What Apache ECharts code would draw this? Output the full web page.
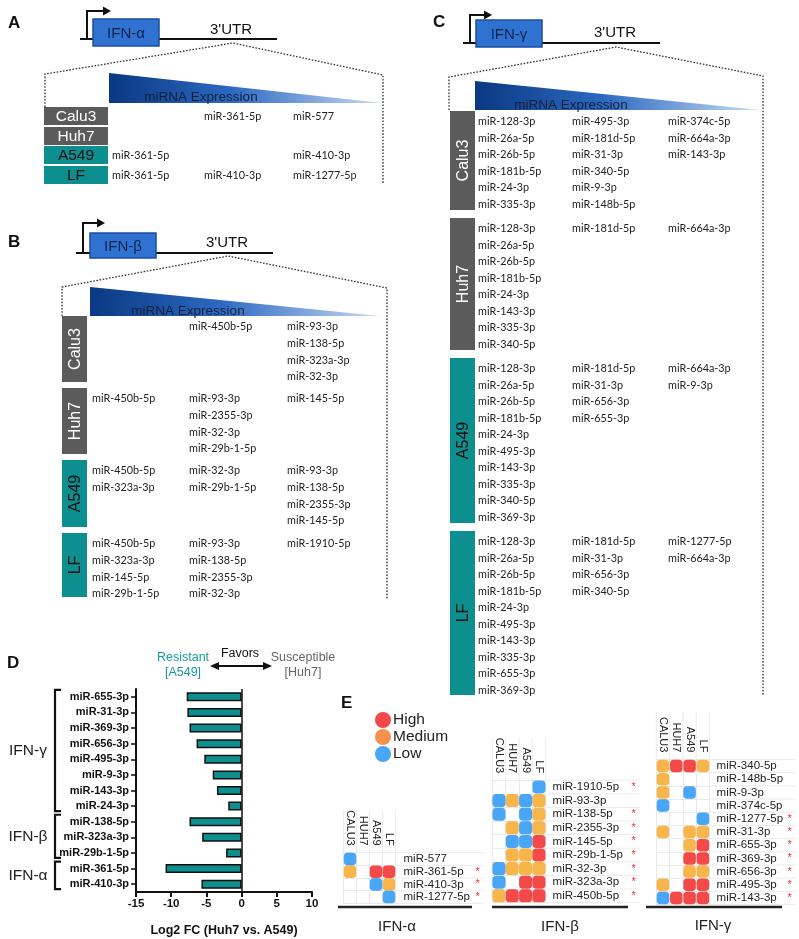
<!DOCTYPE html>
<html><head><meta charset="utf-8">
<script src="https://cdn.jsdelivr.net/npm/echarts@6/dist/echarts.min.js"></script>
<style>html,body{margin:0;padding:0;background:#fff}#c{width:799px;height:939px}</style>
</head><body><div id="c"></div>
<script>
// ---------------- DATA ----------------
const cellLines = ['Calu3', 'Huh7', 'A549', 'LF'];
// Panels A-C: columns ordered from high to low miRNA expression
const aCalu3 = [[], ['miR-361-5p'], ['miR-577']];
const aHuh7  = [[], [], []];
const aA549  = [['miR-361-5p'], [], ['miR-410-3p']];
const aLF    = [['miR-361-5p'], ['miR-410-3p'], ['miR-1277-5p']];

const bCalu3 = [[], ['miR-450b-5p'], ['miR-93-3p', 'miR-138-5p', 'miR-323a-3p', 'miR-32-3p']];
const bHuh7  = [['miR-450b-5p'], ['miR-93-3p', 'miR-2355-3p', 'miR-32-3p', 'miR-29b-1-5p'], ['miR-145-5p']];
const bA549  = [['miR-450b-5p', 'miR-323a-3p'], ['miR-32-3p', 'miR-29b-1-5p'], ['miR-93-3p', 'miR-138-5p', 'miR-2355-3p', 'miR-145-5p']];
const bLF    = [['miR-450b-5p', 'miR-323a-3p', 'miR-145-5p', 'miR-29b-1-5p'], ['miR-93-3p', 'miR-138-5p', 'miR-2355-3p', 'miR-32-3p'], ['miR-1910-5p']];

const cCalu3 = [['miR-128-3p', 'miR-26a-5p', 'miR-26b-5p', 'miR-181b-5p', 'miR-24-3p', 'miR-335-3p'],
                ['miR-495-3p', 'miR-181d-5p', 'miR-31-3p', 'miR-340-5p', 'miR-9-3p', 'miR-148b-5p'],
                ['miR-374c-5p', 'miR-664a-3p', 'miR-143-3p']];
const cHuh7  = [['miR-128-3p', 'miR-26a-5p', 'miR-26b-5p', 'miR-181b-5p', 'miR-24-3p', 'miR-143-3p', 'miR-335-3p', 'miR-340-5p'],
                ['miR-181d-5p'], ['miR-664a-3p']];
const cA549  = [['miR-128-3p', 'miR-26a-5p', 'miR-26b-5p', 'miR-181b-5p', 'miR-24-3p', 'miR-495-3p', 'miR-143-3p', 'miR-335-3p', 'miR-340-5p', 'miR-369-3p'],
                ['miR-181d-5p', 'miR-31-3p', 'miR-656-3p', 'miR-655-3p'], ['miR-664a-3p', 'miR-9-3p']];
const cLF    = [['miR-128-3p', 'miR-26a-5p', 'miR-26b-5p', 'miR-181b-5p', 'miR-24-3p', 'miR-495-3p', 'miR-143-3p', 'miR-335-3p', 'miR-655-3p', 'miR-369-3p'],
                ['miR-181d-5p', 'miR-31-3p', 'miR-656-3p', 'miR-340-5p'], ['miR-1277-5p', 'miR-664a-3p']];

// Panel D
const dMirs = ['miR-655-3p', 'miR-31-3p', 'miR-369-3p', 'miR-656-3p', 'miR-495-3p', 'miR-9-3p', 'miR-143-3p', 'miR-24-3p',
               'miR-138-5p', 'miR-323a-3p', 'miR-29b-1-5p', 'miR-361-5p', 'miR-410-3p'];
const dLog2FC = [-7.8, -7.7, -7.4, -6.4, -5.3, -4.1, -3.5, -1.9, -7.4, -5.6, -2.2, -10.8, -5.7];
const dGroupNames = ['IFN-γ', 'IFN-β', 'IFN-α'];
const dGroupSizes = [8, 3, 2];
const dTicks = [-15, -10, -5, 0, 5, 10];

// Panel E : 0 = none, 1 = Low, 2 = Medium, 3 = High
const eCols = ['CALU3', 'HUH7', 'A549', 'LF'];
const levelNames = ['', 'Low', 'Medium', 'High'];
const eAlphaMirs = ['miR-577', 'miR-361-5p', 'miR-410-3p', 'miR-1277-5p'];
const eAlphaLevels = [[1,0,0,0],[2,0,3,3],[0,0,1,2],[0,0,0,1]];
const eAlphaStar = [0,1,1,1];
const eBetaMirs = ['miR-1910-5p', 'miR-93-3p', 'miR-138-5p', 'miR-2355-3p', 'miR-145-5p', 'miR-29b-1-5p', 'miR-32-3p', 'miR-323a-3p', 'miR-450b-5p'];
const eBetaLevels = [[0,0,0,1],[1,2,1,2],[1,0,1,2],[0,2,1,2],[0,1,1,3],[0,2,2,3],[1,2,2,2],[1,0,3,3],[2,3,3,3]];
const eBetaStar = [1,0,1,1,1,1,1,1,1];
const eGammaMirs = ['miR-340-5p', 'miR-148b-5p', 'miR-9-3p', 'miR-374c-5p', 'miR-1277-5p', 'miR-31-3p', 'miR-655-3p', 'miR-369-3p', 'miR-656-3p', 'miR-495-3p', 'miR-143-3p'];
const eGammaLevels = [[2,3,3,2],[2,0,0,0],[2,0,1,0],[1,0,0,0],[0,0,0,1],[2,0,2,2],[0,0,2,3],[0,0,3,3],[0,0,2,2],[2,0,3,3],[1,3,3,3]];
const eGammaStar = [0,0,0,0,1,1,1,1,1,1,1];

// ---------------- STYLE ----------------
const SANS = '"Liberation Sans", Arial, Helvetica, sans-serif';
const LIST = 'Lato, "Open Sans", sans-serif';
const TEAL = '#0e8f8f';
const GRAY = '#5b5b5b';
const levelColors = ['', '#1b8ef2', '#f6a21e', '#f01c1c'];
const rowFill = [GRAY, GRAY, TEAL, TEAL];
const rowText = ['#ffffff', '#ffffff', '#111111', '#111111'];
const dotPath = 'path://M3,0 H7 A3,3 0 0 1 10,3 V7 A3,3 0 0 1 7,10 H3 A3,3 0 0 1 0,7 V3 A3,3 0 0 1 3,0 Z';

const G = [];
function txt(s, x, y, font, fill, align, valign, rot) {
  align = align || 'center'; valign = valign || 'middle';
  return { type: 'text', x: x, y: y, rotation: rot || 0, silent: true,
    style: { text: s, font: font, fill: fill, textAlign: align, textVerticalAlign: valign, align: align, verticalAlign: valign } };
}
function line(x1, y1, x2, y2, stroke, w, dash) {
  const st = { stroke: stroke, lineWidth: w };
  if (dash) st.lineDash = dash;
  return { type: 'line', silent: true, shape: { x1: x1, y1: y1, x2: x2, y2: y2 }, style: st };
}

function genePanel(p) {
  G.push(txt(p.letter, p.letterPos[0], p.letterPos[1], 'bold 17px ' + SANS, '#111', 'left'));
  G.push(line(p.base[0], p.base[2], p.base[1], p.base[2], '#111', 2));
  // promoter arrow
  G.push({ type: 'polyline', silent: true, shape: { points: [[p.prom[0], p.base[2]], [p.prom[0], p.prom[1]], [p.prom[2] - 6, p.prom[1]]] },
    style: { stroke: '#111', lineWidth: 2, fill: null } });
  G.push({ type: 'polygon', silent: true, shape: { points: [[p.prom[2] - 8, p.prom[1] - 4.5], [p.prom[2], p.prom[1]], [p.prom[2] - 8, p.prom[1] + 4.5]] },
    style: { fill: '#111' } });
  // gene box
  const b = p.box;
  G.push({ type: 'rect', silent: true, shape: { x: b[0], y: b[1], width: b[2], height: b[3] }, style: { fill: '#2f72d2', stroke: '#1d4f9e', lineWidth: 1.5 } });
  G.push(txt(p.gene, b[0] + b[2] / 2, b[1] + b[3] / 2 + 1, '15px ' + SANS, '#10244a'));
  G.push(txt("3'UTR", p.utr[0], p.utr[1], '15px ' + SANS, '#111'));
  // dotted zoom lines
  G.push({ type: 'polyline', silent: true, shape: { points: p.dots }, style: { stroke: '#333', lineWidth: 1.3, lineDash: [1.6, 1.6], fill: null } });
  // expression gradient
  const t = p.tri;
  G.push({ type: 'polygon', silent: true, shape: { points: [[t[0], t[1]], [t[2], t[3]], [t[0], t[3]]] },
    style: { fill: new echarts.graphic.LinearGradient(0, 0, 1, 0, [
      { offset: 0, color: '#0a3882' }, { offset: 0.45, color: '#2d69c2' }, { offset: 1, color: '#c7dbf4' }]) } });
  G.push(txt('miRNA Expression', p.expr[0], p.expr[1], '13.5px ' + SANS, '#15203a'));
  // row label boxes + miRNA lists
  p.rows.forEach(function (r, i) {
    G.push({ type: 'rect', silent: true, shape: { x: r[0], y: r[1], width: r[2], height: r[3] }, style: { fill: rowFill[i] } });
    if (p.vertical) {
      G.push(txt(cellLines[i], r[0] + r[2] / 2 + 1, r[1] + r[3] / 2, '16px ' + SANS, rowText[i], 'center', 'middle', Math.PI / 2));
    } else {
      G.push(txt(cellLines[i], r[0] + r[2] / 2, r[1] + r[3] / 2 + 1, '15.5px ' + SANS, rowText[i]));
    }
    p.data[i].forEach(function (list, c) {
      list.forEach(function (name, k) {
        G.push(txt(name, p.cols[c], r[1] + p.first + k * p.spacing, '10.8px ' + LIST, '#222', 'left'));
      });
    });
  });
}

genePanel({ letter: 'A', letterPos: [8, 23], gene: 'IFN-α', base: [80, 277, 39], prom: [87, 11, 111], box: [93, 19, 66, 27], utr: [231, 30],
  dots: [[45, 107], [45, 74], [233, 43], [383, 75], [383, 183]], tri: [109, 73, 382, 103], expr: [201, 97],
  rows: [[44, 107, 64, 18], [44, 127, 64, 18], [44, 146, 64, 18], [44, 166, 64, 18]], vertical: false,
  cols: [112, 204, 293], first: 10, spacing: 16.6, data: [aCalu3, aHuh7, aA549, aLF] });

genePanel({ letter: 'B', letterPos: [8, 242], gene: 'IFN-β', base: [76, 273, 253], prom: [83, 223, 105], box: [90, 233, 66, 25], utr: [227, 243],
  dots: [[62, 316], [62, 287], [228, 256], [387, 288], [387, 600]], tri: [90, 287, 380, 316], expr: [188, 311],
  rows: [[62, 316, 25, 66], [62, 388, 25, 66], [62, 460, 25, 67], [62, 533, 25, 64]], vertical: true,
  cols: [92, 189, 287], first: 11, spacing: 16.6, data: [bCalu3, bHuh7, bA549, bLF] });

genePanel({ letter: 'C', letterPos: [433, 22], gene: 'IFN-γ', base: [463, 660, 43], prom: [470, 15, 492], box: [476, 20, 66, 27], utr: [615, 33],
  dots: [[449, 110], [449, 77], [616, 47], [763, 76], [763, 695]], tri: [475, 81, 760, 110], expr: [571, 105],
  rows: [[450, 111, 25, 99], [450, 218, 25, 132], [450, 358, 25, 165], [450, 531, 25, 164]], vertical: true,
  cols: [478, 572, 668], first: 10.7, spacing: 16.5, data: [cCalu3, cHuh7, cA549, cLF] });

// Panel D header
G.push(txt('D', 7, 663, 'bold 17px ' + SANS, '#111', 'left'));
G.push(txt('Resistant', 183, 658, '12.5px ' + SANS, '#179a9a'));
G.push(txt('[A549]', 183, 673, '12.5px ' + SANS, '#179a9a'));
G.push(txt('Favors', 240, 654, '12.5px ' + SANS, '#111'));
G.push(line(216, 666, 266, 666, '#111', 2));
G.push({ type: 'polygon', silent: true, shape: { points: [[210, 666], [219, 662], [219, 670]] }, style: { fill: '#111' } });
G.push({ type: 'polygon', silent: true, shape: { points: [[272, 666], [263, 662], [263, 670]] }, style: { fill: '#111' } });
G.push(txt('Susceptible', 303, 658, '12.5px ' + SANS, '#666'));
G.push(txt('[Huh7]', 303, 673, '12.5px ' + SANS, '#666'));

// ---------------- CHART ----------------
const eGrids = [
  { mirs: eAlphaMirs, lv: eAlphaLevels, star: eAlphaStar, grid: { left: 343.5, top: 852.7, width: 52, height: 50.7 }, margin: 8, nameW: 72, size: 12.5, head: 42 },
  { mirs: eBetaMirs, lv: eBetaLevels, star: eBetaStar, grid: { left: 492.3, top: 780.2, width: 53.3, height: 122.4 }, margin: 7, nameW: 79, size: 13, head: 42 },
  { mirs: eGammaMirs, lv: eGammaLevels, star: eGammaStar, grid: { left: 656.3, top: 759.4, width: 53.3, height: 145.2 }, margin: 7, nameW: 71, size: 12.5, head: 48 }
];

// faint table rules of panel E that run through the header and label areas
eGrids.forEach(function (e) {
  const g = e.grid, nR = e.mirs.length, nC = eCols.length;
  const xr = g.left + g.width + e.margin + e.nameW + 8;
  for (let k = 0; k <= nR; k++) {
    const y = g.top + k * g.height / nR;
    G.push(line(g.left + g.width, y, xr, y, '#e6e6e6', 0.8));
  }
  for (let k = 0; k <= nC; k++) {
    const x = g.left + k * g.width / nC;
    G.push(line(x, g.top - e.head, x, g.top, '#e6e6e6', 0.8));
  }
});

G.push(txt('E', 341, 703, 'bold 17px ' + SANS, '#111', 'left'));
G.push(line(338, 907, 472, 907, '#222', 2.5));
G.push(line(492, 907, 628, 907, '#222', 2.5));
G.push(line(646, 907, 782, 907, '#222', 2.5));
G.push(txt('IFN-α', 397, 927, '15px ' + SANS, '#222'));
G.push(txt('IFN-β', 560, 927, '15px ' + SANS, '#222'));
G.push(txt('IFN-γ', 713, 926, '15px ' + SANS, '#222'));

const grids = [{ left: 136, top: 689, width: 176, height: 203 }];
const xAxes = [{
  gridIndex: 0, type: 'value', min: -15, max: 10, interval: 5,
  axisLine: { show: true, onZero: false, lineStyle: { color: '#111', width: 2 } },
  axisTick: { show: true, length: 5, lineStyle: { color: '#111', width: 2 } },
  axisLabel: { fontFamily: SANS, fontWeight: 'bold', fontSize: 11.5, color: '#111', margin: 6,
    formatter: function (v) { return dTicks.indexOf(v) >= 0 ? String(v) : ''; } },
  splitLine: { show: false },
  name: 'Log2 FC (Huh7 vs. A549)', nameLocation: 'middle', nameGap: 32,
  nameTextStyle: { fontFamily: SANS, fontWeight: 'bold', fontSize: 12.5, color: '#111' }
}];
const yAxes = [{
  gridIndex: 0, type: 'category', data: dMirs, inverse: true,
  axisLine: { show: true, onZero: false, lineStyle: { color: '#111', width: 2 } },
  axisTick: { show: true, alignWithLabel: true, length: 5, lineStyle: { color: '#111', width: 1.5 } },
  axisLabel: { fontFamily: SANS, fontWeight: 'bold', fontSize: 11, color: '#111', margin: 7, interval: 0 }
}];
const series = [{
  type: 'bar', xAxisIndex: 0, yAxisIndex: 0, data: dLog2FC, barWidth: 9,
  itemStyle: { color: TEAL, borderColor: '#111', borderWidth: 1.5 },
  markLine: { silent: true, symbol: ['none', 'none'], label: { show: false },
    lineStyle: { color: '#111', width: 1.5, type: 'solid' }, data: [{ xAxis: 0 }] }
}];

eGrids.forEach(function (e, gi) {
  const idx = gi + 1;
  grids.push(e.grid);
  xAxes.push({ gridIndex: idx, type: 'category', data: eCols, position: 'top',
    axisLine: { show: false }, axisTick: { show: false },
    axisLabel: { rotate: 90, interval: 0, fontFamily: SANS, fontSize: 11, color: '#222', margin: 7 },
    splitLine: { show: true, interval: 0, lineStyle: { color: '#e3e3e3', width: 0.8 } } });
  yAxes.push({ gridIndex: idx, type: 'category', data: e.mirs, position: 'right', inverse: true,
    axisLine: { show: false }, axisTick: { show: false },
    splitLine: { show: true, interval: 0, lineStyle: { color: '#e3e3e3', width: 0.8 } },
    axisLabel: { interval: 0, margin: e.margin, align: 'left',
      formatter: function (v, i) { return '{n|' + v + '}{s|' + (e.star[i] ? '*' : ' ') + '}'; },
      rich: { n: { width: e.nameW, fontFamily: SANS, fontSize: 11.5, color: '#222' },
              s: { fontFamily: SANS, fontSize: 11, color: '#f03030' } } } });
  [3, 2, 1].forEach(function (L) {
    const pts = [];
    e.lv.forEach(function (row, r) { row.forEach(function (v, c) { if (v === L) pts.push([c, r]); }); });
    series.push({ type: 'scatter', name: levelNames[L], xAxisIndex: idx, yAxisIndex: idx, data: pts, z: 5,
      symbol: dotPath, symbolSize: e.size, itemStyle: { color: levelColors[L] } });
  });
});

const chart = echarts.init(document.getElementById('c'), null, { renderer: 'canvas' });
chart.setOption({
  animation: false, backgroundColor: '#ffffff',
  grid: grids, xAxis: xAxes, yAxis: yAxes, series: series,
  legend: { orient: 'vertical', left: 370, top: 707, itemGap: 1, itemWidth: 16, itemHeight: 16, icon: 'circle',
    selectedMode: false,
    textStyle: { fontFamily: SANS, fontSize: 15.5, lineHeight: 16, color: '#222', padding: [0, 0, 0, -3] },
    data: [{ name: 'High', itemStyle: { color: '#f01c1c' } },
           { name: 'Medium', itemStyle: { color: '#f27520' } },
           { name: 'Low', itemStyle: { color: '#1b8ef2' } }] }
});

// Panel D brackets, positioned from the category axis
let start = 0;
dGroupSizes.forEach(function (n, gi) {
  const y1 = chart.convertToPixel({ yAxisIndex: 0 }, dMirs[start]) - 7;
  const y2 = chart.convertToPixel({ yAxisIndex: 0 }, dMirs[start + n - 1]) + 5;
  G.push({ type: 'polyline', silent: true, shape: { points: [[61, y1], [55, y1], [55, y2], [61, y2]] },
    style: { stroke: '#111', lineWidth: 2.2, fill: null } });
  G.push(txt(dGroupNames[gi], 28, (y1 + y2) / 2, '15.5px ' + SANS, '#222'));
  start += n;
});
chart.setOption({ graphic: G });
</script></body></html>
